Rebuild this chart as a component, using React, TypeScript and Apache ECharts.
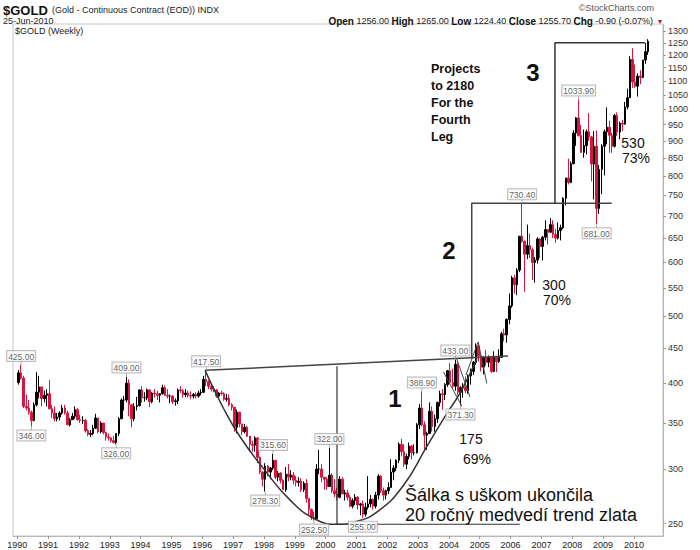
import React, { useEffect, useRef } from "react";
import * as echarts from "echarts";

const FONT = '"Liberation Sans", Arial, sans-serif';

// Monthly bars, Jan 1990 .. Jun 2010
const START_YEAR = 1990;
const FIRST_OPEN = 401;
const closes = [
  414, 407, 370, 368, 363, 353, 372, 388, 395, 380, 384, 386,
  367, 362, 355, 357, 362, 368, 362, 348, 354, 358, 366, 354,
  353, 353, 341, 337, 338, 344, 356, 340, 350, 339, 334, 333,
  330, 328, 338, 355, 378, 378, 400, 372, 355, 370, 371, 391,
  381, 381, 391, 376, 387, 386, 384, 386, 394, 384, 383, 383,
  376, 377, 391, 390, 385, 387, 384, 383, 385, 383, 387, 388,
  405, 402, 396, 392, 391, 383, 387, 386, 379, 380, 372, 369,
  345, 363, 349, 340, 345, 335, 326, 325, 333, 312, 297, 290,
  303, 297, 301, 309, 292, 296, 289, 280, 295, 292, 294, 289,
  287, 288, 280, 286, 272, 262, 255, 254, 300, 300, 292, 290,
  283, 294, 279, 276, 273, 290, 276, 277, 273, 265, 270, 273,
  266, 267, 258, 264, 267, 271, 265, 275, 293, 279, 275, 279,
  282, 297, 301, 309, 326, 318, 305, 313, 324, 317, 317, 348,
  368, 348, 336, 338, 364, 346, 355, 375, 386, 385, 398, 417,
  401, 396, 426, 388, 394, 395, 390, 410, 416, 429, 453, 438,
  422, 436, 429, 436, 416, 436, 430, 436, 472, 470, 495, 518,
  569, 556, 584, 654, 643, 616, 634, 625, 599, 604, 648, 632,
  652, 669, 663, 680, 658, 650, 667, 673, 743, 795, 783, 834,
  924, 972, 916, 866, 886, 928, 912, 833, 884, 718, 818, 884,
  928, 942, 917, 884, 980, 927, 955, 952, 1008, 1040, 1182, 1096,
  1081, 1118, 1113, 1180, 1213, 1256,
];
const highs = [
  418, 425, 410, 385, 378, 365, 375, 415, 410, 395, 390, 392,
  404, 372, 370, 362, 364, 372, 372, 365, 356, 362, 370, 368,
  360, 358, 355, 343, 342, 348, 361, 356, 352, 350, 340, 338,
  334, 335, 338, 357, 380, 383, 409, 405, 373, 374, 382, 392,
  396, 388, 393, 392, 388, 392, 390, 387, 398, 397, 392, 385,
  384, 380, 393, 396, 392, 392, 390, 389, 387, 388, 390, 392,
  410, 417.5, 404, 398, 396, 392, 388, 390, 388, 386, 385, 374,
  369, 366, 363, 349, 349, 347, 335, 330, 335, 334, 313, 298,
  306, 304, 302, 315.6, 309, 298, 297, 290, 302, 305, 299, 297,
  293, 292, 291, 288, 290, 272, 263, 260, 305, 320, 305, 292,
  292, 322, 296, 290, 282, 293, 292, 280, 280, 275, 272, 276,
  274, 268, 270, 268, 293, 275, 272, 278, 295, 294, 282, 280,
  287, 310, 304, 310, 328, 332, 326, 316, 328, 325, 326, 350,
  373, 388.9, 352, 340, 375, 370, 360, 376, 390, 392, 400, 418,
  428, 420, 433, 430, 396, 400, 409, 412, 420, 431, 457, 455,
  440, 438, 447, 439, 437, 445, 438, 448, 475, 480, 497, 540,
  573, 575, 588, 655, 730.4, 645, 680, 660, 630, 610, 652, 650,
  655, 690, 670, 695, 690, 670, 685, 680, 745, 795, 848, 840,
  933, 975, 1033.9, 950, 935, 935, 988, 915, 930, 932, 830, 890,
  935, 1007, 963, 925, 985, 990, 960, 965, 1025, 1072, 1195, 1227,
  1162, 1128, 1140, 1180, 1249, 1265,
];
const lows = [
  398, 405, 368, 365, 360, 346, 352, 370, 380, 370, 375, 370,
  368, 356, 352, 352, 353, 360, 360, 349, 346, 354, 355, 353,
  350, 349, 339, 335, 334, 336, 343, 338, 338, 337, 330, 330,
  328, 327, 326, 335, 355, 365, 375, 358, 345, 352, 365, 370,
  375, 376, 378, 369, 374, 381, 378, 375, 385, 384, 380, 374,
  373, 371, 373, 387, 381, 382, 381, 379, 380, 380, 381, 384,
  387, 396, 392, 389, 388, 381, 380, 384, 377, 376, 370, 365,
  340, 338, 345, 336, 338, 334, 318, 318, 318, 306, 295, 283,
  278.3, 293, 290, 299, 290, 288, 286, 280, 278, 288, 289, 285,
  283, 283, 278, 278, 268, 257, 253, 252.5, 254, 295, 287, 280,
  280, 283, 277, 273, 270, 272, 276, 270, 270, 264, 263, 266,
  262, 257, 255, 256, 262, 264, 262, 263, 271, 277, 270, 271,
  276, 282, 289, 298, 306, 313, 302, 300, 310, 310, 314, 316,
  343, 346, 319, 320, 338, 340, 340, 350, 370, 366, 378, 395,
  400, 393, 390, 384, 371.3, 381, 387, 386, 398, 411, 425, 430,
  416, 412, 424, 422, 414, 415, 415, 428, 435, 460, 458, 487,
  515, 540, 537, 580, 640, 543, 606, 608, 565, 560, 597, 608,
  603, 645, 636, 662, 650, 640, 647, 645, 670, 725, 778, 781,
  832, 885, 913, 865, 851, 860, 900, 786, 740, 681, 705, 753,
  802, 890, 865, 865, 880, 915, 905, 930, 950, 1000, 1040, 1075,
  1075, 1044, 1088, 1110, 1165, 1200,
];

const yTicks = [250, 300, 350, 400, 450, 500, 550, 600, 650, 700, 750, 800, 850, 900, 950, 1000, 1050, 1100, 1150, 1200, 1250, 1300];
const xTicks = [1990, 1991, 1992, 1993, 1994, 1995, 1996, 1997, 1998, 1999, 2000, 2001, 2002, 2003, 2004, 2005, 2006, 2007, 2008, 2009, 2010];

// price call-outs: [decimal year, price, text, side]
const callouts: [number, number, string, string][] = [
  [1990.125, 425, "425.00", "top"],
  [1990.458, 346, "346.00", "bottom"],
  [1993.208, 326, "326.00", "bottom"],
  [1993.542, 409, "409.00", "top"],
  [1996.125, 417.5, "417.50", "top"],
  [1998.042, 278.3, "278.30", "bottom"],
  [1998.292, 315.6, "315.60", "top"],
  [1999.625, 252.5, "252.50", "bottom"],
  [2000.125, 322, "322.00", "top"],
  [2001.208, 255, "255.00", "bottom"],
  [2003.125, 388.9, "388.90", "top"],
  [2004.208, 433, "433.00", "top"],
  [2004.375, 371.3, "371.30", "bottom"],
  [2006.375, 730.4, "730.40", "top"],
  [2008.208, 1033.9, "1033.90", "top"],
  [2008.792, 681, "681.00", "bottom"],
];

// hand-drawn annotation lines, in [decimal year, price]
const rimLine = [[1996.09, 417.5], [2005.92, 438]];
const cupArc = [
  [1996.09, 417.5], [1996.67, 369], [1997.22, 334.6], [1997.97, 301.2], [1998.85, 270.4],
  [1999.72, 253], [2000.37, 249.4], [2001.02, 251.9], [2001.66, 259.7], [2002.5, 283],
  [2003.29, 323.9], [2003.94, 361.9], [2004.36, 386.8], [2004.91, 434.4],
];
const cupCenter = [[2000.37, 423.4], [2000.37, 249.4], [2006.3, 249.4]];
const leg2Box = [[2004.74, 434], [2004.74, 730.4], [2009.28, 730.4]];
const leg3Box = [[2007.44, 730.4], [2007.44, 1250], [2010.36, 1250]];
const flagLines = [
  [[2003.82, 415.6], [2004.42, 370.3]],
  [[2004.25, 434.4], [2004.68, 382.2]],
  [[2004.55, 410.8], [2004.95, 459.3]],
  [[2004.95, 459.3], [2005.23, 399.6]],
];

const candles = closes.map((c, i) => {
  const x = START_YEAR + Math.floor(i / 12) + ((i % 12) + 0.5) / 12;
  const o = i === 0 ? FIRST_OPEN : closes[i - 1];
  return [x, o, c, lows[i], highs[i]];
});

const lineSeries = (data: number[][], width: number, smooth: boolean | number = false, color = "#333") => ({
  type: "line",
  data,
  symbol: "none",
  smooth,
  silent: true,
  clip: false,
  z: 4,
  lineStyle: { color, width },
});

const txt = (x: number, y: number, text: string, font: string, align = "center", extra: any = {}) => ({
  type: "text",
  x,
  y,
  z: 20,
  style: {
    text,
    font,
    fill: "#111",
    textAlign: align,
    textVerticalAlign: "middle",
    align,
    verticalAlign: "middle",
    ...extra,
  },
});

export default function App() {
  const ref = useRef<HTMLDivElement>(null);
  useEffect(() => {
    const chart = echarts.init(ref.current!, null, { renderer: "svg" });
    const option: any = {
      animation: false,
      backgroundColor: "#fff",
      grid: { left: 13, right: 37, top: 24, bottom: 14, show: true, borderColor: "#c4c4c4", borderWidth: 1 },
      xAxis: {
        type: "value",
        min: 1989.861,
        max: 2010.944,
        splitLine: { show: false },
        axisLine: { onZero: false, lineStyle: { color: "#b8b8b8" } },
        axisTick: { show: true, customValues: xTicks, length: 3, lineStyle: { color: "#999" } },
        axisLabel: {
          customValues: xTicks,
          formatter: (v: number) => String(Math.round(v)),
          fontSize: 9,
          color: "#222",
          margin: 4,
          fontFamily: FONT,
        },
      },
      yAxis: {
        type: "log",
        logBase: 10,
        position: "right",
        min: 239.8,
        max: 1331,
        splitLine: { show: false },
        axisLine: { show: true, lineStyle: { color: "#aaa", type: "dotted" } },
        axisTick: { show: true, customValues: yTicks, length: 3, lineStyle: { color: "#999" } },
        minorTick: { show: false },
        axisLabel: {
          customValues: yTicks,
          formatter: (v: number) => String(Math.round(v)),
          fontSize: 9,
          color: "#333",
          margin: 5,
          fontFamily: FONT,
        },
      },
      series: [
        {
          type: "candlestick",
          data: candles,
          dimensions: ["x", "open", "close", "lowest", "highest"],
          encode: { x: 0, y: [1, 2, 3, 4] },
          barWidth: 2,
          z: 2,
          itemStyle: { color: "#000", color0: "#d8143f", borderColor: "#000", borderColor0: "#d8143f", borderWidth: 1 },
        },
        lineSeries(rimLine, 1.5, false, "#444"),
        lineSeries(cupArc, 1.5, 0.5, "#333"),
        lineSeries(cupCenter, 1.2, false, "#333"),
        lineSeries(leg2Box, 1.5, false, "#444"),
        lineSeries(leg3Box, 1.5, false, "#333"),
        ...flagLines.map((l) => lineSeries(l, 1, false, "#444")),
        {
          type: "scatter",
          z: 10,
          silent: true,
          symbol: "rect",
          symbolSize: [1, 4],
          itemStyle: { color: "#999" },
          data: callouts.map(([x, p, t, side]) => ({
            name: t,
            value: [x, p],
            symbolOffset: [0, side === "top" ? -2 : 2],
            label: {
              show: true,
              position: side,
              distance: 0,
              formatter: t,
              fontSize: 8.5,
              fontFamily: FONT,
              color: "#333",
              backgroundColor: "#fff",
              borderColor: "#aaa",
              borderWidth: 1,
              padding: [1, 1, 0, 1],
            },
          })),
        },
      ],
      graphic: [
        txt(3, 10, "$GOLD", `bold 13px ${FONT}`, "left"),
        txt(52, 10, "(Gold - Continuous Contract (EOD)) INDX", `9px ${FONT}`, "left", { fill: "#222" }),
        txt(3, 21, "25-Jun-2010", `9px ${FONT}`, "left", { fill: "#222" }),
        txt(654, 8, "\u00A9StockCharts.com", `9px ${FONT}`, "right", { fill: "#555" }),
        txt(653, 21, "{b|Open} 1256.00 {b|High} 1265.00 {b|Low} 1224.40 {b|Close} 1255.70 {b|Chg} -0.90 (-0.07%)", `9px ${FONT}`, "right", {
          fill: "#222",
          rich: { b: { fontWeight: "bold", fontSize: 10, fontFamily: FONT, fill: "#111" } },
        }),
        txt(660, 21, "\u25BC", `7px ${FONT}`, "center", { fill: "#c0103a" }),
        txt(15, 31, "$GOLD (Weekly)", `9px ${FONT}`, "left", { fill: "#222" }),
        txt(395, 398, "1", `bold 24px ${FONT}`),
        txt(449, 250, "2", `bold 24px ${FONT}`),
        txt(533, 72, "3", `bold 24px ${FONT}`),
        txt(471, 439, "175", `14px ${FONT}`),
        txt(477, 459, "69%", `14px ${FONT}`),
        txt(554, 285, "300", `14px ${FONT}`),
        txt(557, 300, "70%", `14px ${FONT}`),
        txt(633, 143, "530", `14px ${FONT}`),
        txt(636, 158, "73%", `14px ${FONT}`),
        txt(431, 69, "Projects", `bold 12.5px ${FONT}`, "left"),
        txt(431, 86, "to 2180", `bold 12.5px ${FONT}`, "left"),
        txt(431, 103, "For the", `bold 12.5px ${FONT}`, "left"),
        txt(431, 120, "Fourth", `bold 12.5px ${FONT}`, "left"),
        txt(431, 137, "Leg", `bold 12.5px ${FONT}`, "left"),
        txt(405, 495, "Šálka s uškom ukončila", `18px ${FONT}`, "left"),
        txt(405, 515, "20 ročný medvedí trend zlata", `18px ${FONT}`, "left"),
      ],
    };
    chart.setOption(option);
    return () => chart.dispose();
  }, []);
  return <div ref={ref} style={{ position: "absolute", left: 0, top: 0, width: 700, height: 550, background: "#fff" }} />;
}
